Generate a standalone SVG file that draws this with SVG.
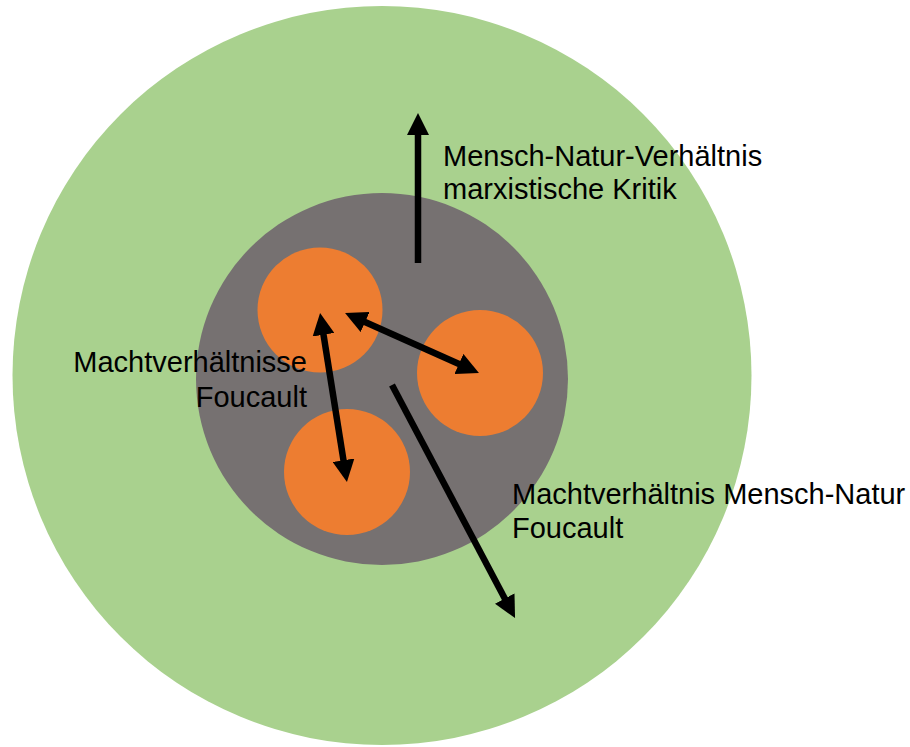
<svg xmlns="http://www.w3.org/2000/svg" width="910" height="747" viewBox="0 0 910 747">
<style>
.lbl{font-family:"Liberation Sans",Arial,sans-serif;font-size:29px;fill:#000}
.arr{stroke:#000;stroke-width:6.5;fill:none}
</style>
<defs>
<marker id="ah" viewBox="0 0 22 22" refX="2" refY="11" markerWidth="22" markerHeight="22" markerUnits="userSpaceOnUse" orient="auto-start-reverse">
<path d="M0,0 L22,11 L0,22 z" fill="#000"/>
</marker>
</defs>
<rect width="910" height="747" fill="#fff"/>
<g id="outer"><circle cx="382" cy="375.5" r="369.5" fill="#A9D18E"/></g>
<g id="inner"><circle cx="382" cy="379" r="186" fill="#767171"/></g>
<g id="orange1"><circle cx="320" cy="310" r="62.5" fill="#ED7D31"/></g>
<g id="orange2"><circle cx="480" cy="373" r="63" fill="#ED7D31"/></g>
<g id="orange3"><circle cx="347" cy="472" r="63" fill="#ED7D31"/></g>
<g id="connectors">
<line class="arr" x1="418" y1="263" x2="418" y2="133" marker-end="url(#ah)"/>
<line class="arr" x1="363.3" y1="321.2" x2="460.7" y2="364.8" marker-start="url(#ah)" marker-end="url(#ah)"/>
<line class="arr" x1="323.2" y1="332.8" x2="343.8" y2="462.2" marker-start="url(#ah)" marker-end="url(#ah)"/>
<line class="arr" x1="392" y1="385" x2="505.7" y2="600.3" marker-end="url(#ah)"/>
</g>
<g id="label1"><text class="lbl" x="443" y="166">Mensch-Natur-Verhältnis</text><text class="lbl" x="443" y="199">marxistische Kritik</text></g>
<g id="label2"><text class="lbl" x="307" y="372" text-anchor="end">Machtverhältnisse</text><text class="lbl" x="307" y="407" text-anchor="end">Foucault</text></g>
<g id="label3"><text class="lbl" x="512" y="504">Machtverhältnis Mensch-Natur</text><text class="lbl" x="512" y="538">Foucault</text></g>
</svg>
